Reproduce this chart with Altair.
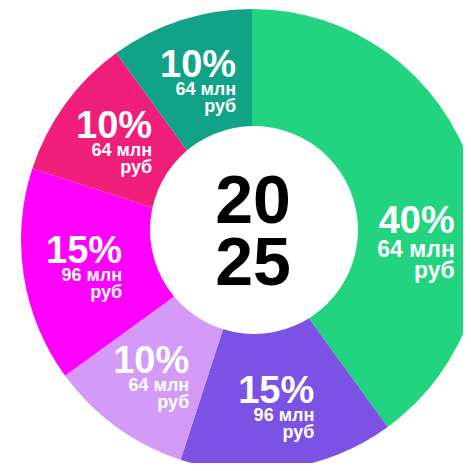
import altair as alt
import pandas as pd

segments = ["s1", "s2", "s3", "s4", "s5", "s6"]
shares = [40, 15, 10, 15, 10, 10]
percent_labels = ["40%", "15%", "10%", "15%", "10%", "10%"]
amount_labels = ["64 млн", "96 млн", "64 млн", "96 млн", "64 млн", "64 млн"]
unit_labels = ["руб", "руб", "руб", "руб", "руб", "руб"]
colors = ["#22D37F", "#7B52E4", "#D39AF8", "#FF00FF", "#EE1E79", "#11A388"]
center_lines = ["20", "25"]

df = pd.DataFrame({
    "segment": segments,
    "share": shares,
    "pct": percent_labels,
    "amt": amount_labels,
    "unit": unit_labels,
    "idx": list(range(len(segments))),
})

FONT = "Liberation Sans"
CX, CY = 244, 232

base = alt.Chart(df).encode(
    theta=alt.Theta("share:Q", stack=True),
    order=alt.Order("idx:Q"),
    x=alt.value(CX),
    y=alt.value(CY),
)

pie = base.mark_arc(outerRadius=231).encode(
    color=alt.Color("segment:N", scale=alt.Scale(domain=segments, range=colors), legend=None)
)

# white centre disc (diameter 208 px -> symbol size = 208^2)
hole = alt.Chart(pd.DataFrame({"k": [0]})).mark_circle(
    size=43264, color="white", opacity=1
).encode(x=alt.value(CX + 2), y=alt.value(CY - 10))

layers = [pie, hole]

line_specs = [("pct", 38, -3), ("amt", 18, 15), ("unit", 18, 32)]
for field, size, dy in line_specs:
    layers.append(
        base.transform_calculate(t=f"datum.idx == 0 ? '' : datum.{field}")
        .mark_text(radius=168, align="right", baseline="alphabetic", dx=36, dy=dy,
                   fontSize=size, fontWeight="bold", font=FONT, color="white")
        .encode(text="t:N")
    )

green_specs = [("pct", 38, 45), ("amt", 23, 69), ("unit", 23, 90)]
for field, size, dy in green_specs:
    layers.append(
        base.transform_calculate(t=f"datum.idx == 0 ? datum.{field} : ''")
        .mark_text(radius=168, align="right", baseline="alphabetic", dx=43, dy=dy,
                   fontSize=size, fontWeight="bold", font=FONT, color="white")
        .encode(text="t:N")
    )

center_df = pd.DataFrame({"line": center_lines, "row": [0, 1]})
center = alt.Chart(center_df).mark_text(
    align="center", baseline="alphabetic", fontSize=68, fontWeight="bold", font=FONT, color="black"
).encode(
    text="line:N",
    x=alt.value(CX + 1),
    y=alt.Y("row:Q", scale=alt.Scale(domain=[0, 1], range=[215, 277]), axis=None),
)
layers.append(center)

chart = alt.layer(*layers).properties(
    width=455, height=455, padding=0, autosize=alt.AutoSizeParams(type="none")
).configure_view(stroke=None)

chart.save("out.html", embed_options={"renderer": "svg", "actions": False})
